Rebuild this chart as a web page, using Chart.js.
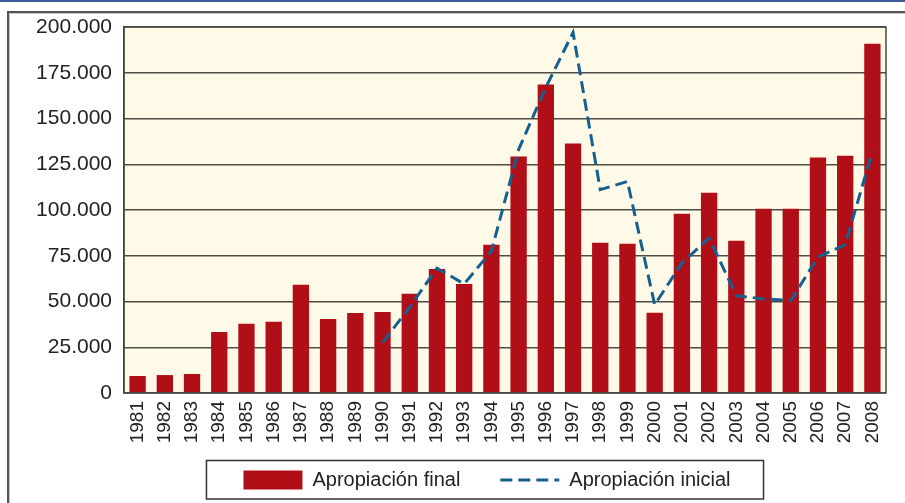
<!DOCTYPE html>
<html>
<head>
<meta charset="utf-8">
<script src="https://cdn.jsdelivr.net/npm/chart.js@4.4.1/dist/chart.umd.min.js"></script>
<style>
  body { margin: 0; background: #fff; }
  #wrap { position: relative; width: 905px; height: 503px; overflow: hidden; }
  .topline { position: absolute; left: 0; top: 0; width: 905px; height: 2px; background: #3c5d9a; }
  .frame { position: absolute; left: 7px; top: 11px; width: 940px; height: 540px;
           border-left: 2px solid #555; border-top: 2px solid #555; box-shadow: inset 1px 1px 0 #c8c8c8; }
  canvas { position: absolute; left: 0; top: 0; }
</style>
</head>
<body>
<div id="wrap">
  <div class="topline"></div>
  <div class="frame"></div>
  <canvas id="chart" width="905" height="503"></canvas>
</div>
<script>
const years = ['1981', '1982', '1983', '1984', '1985', '1986', '1987', '1988', '1989', '1990',
               '1991', '1992', '1993', '1994', '1995', '1996', '1997', '1998', '1999', '2000',
               '2001', '2002', '2003', '2004', '2005', '2006', '2007', '2008'];

const apropiacionFinal = [9300, 9800, 10400, 33400, 37800, 38900, 59200, 40500, 43700, 44300,
                          54200, 67800, 59600, 81000, 129300, 168600, 136300, 82100, 81500, 43800,
                          97900, 109400, 83200, 100700, 100700, 128700, 129700, 190900];

const apropiacionInicial = [null, null, null, null, null, null, null, null, null, 27500,
                            47000, 68200, 59600, 77500, 133000, 167000, 197000, 111100, 115600, 48200,
                            71000, 84700, 53200, 51400, 50500, 74300, 81000, 132000];

const yTicks = [0, 25000, 50000, 75000, 100000, 125000, 150000, 175000, 200000];

Chart.defaults.font.family = '"Liberation Sans", Arial, sans-serif';
Chart.defaults.color = '#222';

function miles(v) {
    return String(v).replace(/\B(?=(\d{3})+(?!\d))/g, '.');
}

// fondo crema del area de trazado, marco y caja de la leyenda
const plotFrame = {
    id: 'plotFrame',
    afterLayout(chart) {
        // la leyenda va centrada bajo el grafico, algo a la derecha
        const lg = chart.legend;
        lg.left += 44;
        lg.right += 44;
        lg.top = 430;
        lg.bottom = 503;
    },
    beforeDraw(chart) {
        const { ctx, chartArea: a } = chart;
        ctx.save();
        ctx.fillStyle = '#fffae8';
        ctx.fillRect(a.left, a.top, a.right - a.left, a.bottom - a.top);
        ctx.restore();
    },
    afterDraw(chart) {
        const { ctx, chartArea: a } = chart;
        ctx.save();
        ctx.strokeStyle = '#4a4742';
        ctx.lineWidth = 1.5;
        ctx.strokeRect(a.left, a.top, a.right - a.left, a.bottom - a.top);

        const boxes = chart.legend.legendHitBoxes;
        if (boxes && boxes.length) {
            const first = boxes[0];
            const last = boxes[boxes.length - 1];
            const cy = first.top + first.height / 2;
            const left = first.left - 37;
            const right = last.left + last.width + 33;
            ctx.strokeStyle = '#333';
            ctx.lineWidth = 1.5;
            ctx.strokeRect(left, cy - 19.5, right - left, 38.5);
        }
        ctx.restore();
    }
};

new Chart(document.getElementById('chart'), {
    data: {
        labels: years,
        datasets: [{
            type: 'bar',
            label: 'Apropiación final',
            data: apropiacionFinal,
            backgroundColor: '#b00f18',
            borderWidth: 0,
            categoryPercentage: 1,
            barPercentage: 0.6,
            pointStyle: 'rect',
            order: 2
        }, {
            type: 'line',
            label: 'Apropiación inicial',
            data: apropiacionInicial,
            borderColor: '#16608f',
            backgroundColor: '#16608f',
            borderWidth: 3,
            borderDash: [12, 6],
            pointRadius: 0,
            pointStyle: 'line',
            tension: 0,
            fill: false,
            order: 1
        }]
    },
    options: {
        responsive: false,
        animation: false,
        layout: { padding: { left: 0, right: 19, top: 27, bottom: 3 } },
        plugins: {
            tooltip: { enabled: false },
            legend: {
                position: 'bottom',
                maxHeight: 40,
                labels: {
                    usePointStyle: true,
                    pointStyleWidth: 59,
                    boxHeight: 19,
                    padding: 40,
                    font: { size: 20 },
                    color: '#222',
                    sort: (a, b) => a.datasetIndex - b.datasetIndex,
                    generateLabels(chart) {
                        const items = Chart.defaults.plugins.legend.labels.generateLabels(chart);
                        items.forEach(it => {
                            const ds = chart.data.datasets[it.datasetIndex];
                            if (ds.borderDash) {
                                it.lineDash = ds.borderDash;
                                it.lineWidth = ds.borderWidth;
                                it.strokeStyle = ds.borderColor;
                            }
                        });
                        return items;
                    }
                }
            }
        },
        scales: {
            x: {
                grid: { display: false, drawTicks: false },
                border: { display: false },
                ticks: {
                    autoSkip: false,
                    maxRotation: 90,
                    minRotation: 90,
                    padding: 8,
                    font: { size: 19 },
                    color: '#222'
                },
                afterFit(axis) { axis.height = 67; }
            },
            y: {
                min: 0,
                max: 200000,
                afterBuildTicks(axis) { axis.ticks = yTicks.map(v => ({ value: v })); },
                grid: { color: '#4f4c46', lineWidth: 1.5, drawTicks: false },
                border: { color: '#4a4742', width: 1.5 },
                ticks: {
                    padding: 12,
                    font: { size: 21 },
                    color: '#222',
                    callback: v => miles(v)
                },
                afterFit(axis) { axis.width = 124; }
            }
        }
    },
    plugins: [plotFrame]
});
</script>
</body>
</html>
